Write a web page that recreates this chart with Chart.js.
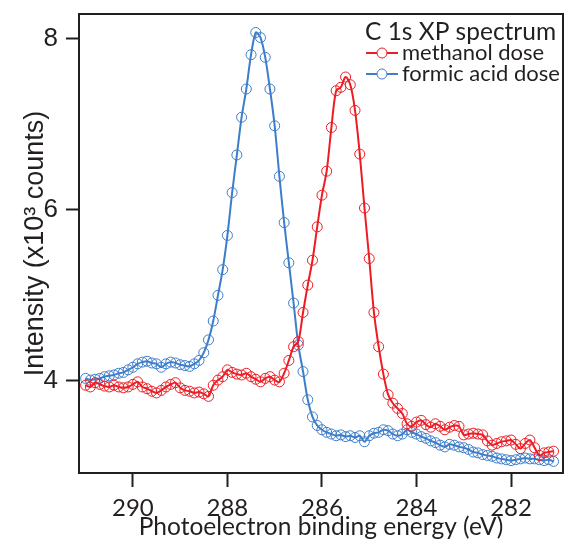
<!DOCTYPE html>
<html lang="en">
<head>
<meta charset="UTF-8" />
<title>C 1s XP spectrum</title>
<script src="https://cdn.jsdelivr.net/npm/chart.js@4.4.1/dist/chart.umd.min.js"></script>
<style>
  html, body { margin: 0; padding: 0; background: #fff; }
  #wrap { width: 565px; height: 545px; }
</style>
</head>
<body>
<div id="wrap"><canvas id="chart" width="565" height="545"></canvas></div>
<script>
// binding energy (eV), one point every 0.1 eV
const energy = [
  291.0,290.9,290.8,290.7,290.6,290.5,290.4,290.3,290.2,290.1,
  290.0,289.9,289.8,289.7,289.6,289.5,289.4,289.3,289.2,289.1,
  289.0,288.9,288.8,288.7,288.6,288.5,288.4,288.3,288.2,288.1,
  288.0,287.9,287.8,287.7,287.6,287.5,287.4,287.3,287.2,287.1,
  287.0,286.9,286.8,286.7,286.6,286.5,286.4,286.3,286.2,286.1,
  286.0,285.9,285.8,285.7,285.6,285.5,285.4,285.3,285.2,285.1,
  285.0,284.9,284.8,284.7,284.6,284.5,284.4,284.3,284.2,284.1,
  284.0,283.9,283.8,283.7,283.6,283.5,283.4,283.3,283.2,283.1,
  283.0,282.9,282.8,282.7,282.6,282.5,282.4,282.3,282.2,282.1,
  282.0,281.9,281.8,281.7,281.6,281.5,281.4,281.3,281.2,281.1
];

// intensity, x10^3 counts
const methanol = [
  3.95,3.93,3.98,3.96,3.94,3.93,3.95,3.93,3.92,3.93,
  3.96,3.99,3.93,3.91,3.88,3.86,3.89,3.93,3.96,3.98,
  3.92,3.89,3.88,3.86,3.87,3.85,3.82,3.95,4.01,4.05,
  4.13,4.10,4.08,4.07,4.09,4.05,4.02,3.99,4.03,4.05,
  4.01,3.99,4.09,4.24,4.40,4.46,4.80,5.12,5.41,5.80,
  6.17,6.45,6.96,7.39,7.43,7.55,7.46,7.16,6.65,6.02,
  5.43,4.80,4.40,4.08,3.84,3.74,3.68,3.62,3.50,3.47,
  3.52,3.54,3.49,3.46,3.50,3.47,3.43,3.46,3.48,3.47,
  3.37,3.38,3.39,3.38,3.37,3.30,3.25,3.27,3.29,3.30,
  3.31,3.26,3.21,3.27,3.31,3.22,3.13,3.16,3.17,3.18
];

const formicAcid = [
  4.03,4.01,4.02,4.03,4.05,4.06,4.07,4.09,4.10,4.13,
  4.16,4.20,4.22,4.23,4.21,4.20,4.16,4.20,4.22,4.21,
  4.19,4.18,4.17,4.20,4.24,4.33,4.48,4.70,5.00,5.30,
  5.70,6.20,6.64,7.08,7.41,7.81,8.07,8.01,7.78,7.41,
  6.98,6.39,5.85,5.38,4.91,4.42,4.11,3.78,3.58,3.48,
  3.43,3.40,3.38,3.36,3.37,3.35,3.36,3.34,3.36,3.29,
  3.36,3.39,3.40,3.43,3.42,3.38,3.36,3.38,3.43,3.40,
  3.38,3.35,3.33,3.30,3.28,3.25,3.23,3.26,3.25,3.23,
  3.22,3.20,3.17,3.16,3.14,3.13,3.12,3.10,3.09,3.08,
  3.07,3.08,3.09,3.10,3.09,3.09,3.08,3.07,3.08,3.06
];

const seriesNames = ['methanol dose', 'formic acid dose'];
const legendTitle = 'C 1s XP spectrum';
const xTicks = [290, 288, 286, 284, 282];
const yTicks = [8, 6, 4];

const RED = '#ed1c24';
const BLUE = '#3d7dca';
const INK = '#231f20';
const SANS = 'Lato';

function pts(ys) {
  return energy.map((e, i) => ({ x: e, y: ys[i] }));
}

function dataset(label, ys, color) {
  return {
    label: label,
    data: pts(ys),
    borderColor: color,
    borderWidth: 2,
    pointRadius: 5,
    pointBorderWidth: 1,
    pointBorderColor: color,
    pointBackgroundColor: 'rgba(0,0,0,0)',
    tension: 0.3,
    fill: false
  };
}

// box round the plot area
const frame = {
  id: 'frame',
  afterDraw(chart) {
    const a = chart.chartArea, ctx = chart.ctx;
    ctx.save();
    ctx.strokeStyle = INK;
    ctx.lineWidth = 2;
    ctx.strokeRect(a.left, a.top, a.right - a.left, a.bottom - a.top);
    ctx.restore();
  }
};

// legend inside the top right corner
const insideLegend = {
  id: 'insideLegend',
  afterDraw(chart) {
    const ctx = chart.ctx, a = chart.chartArea;
    const x0 = a.right - 198;
    ctx.save();
    ctx.fillStyle = INK;
    ctx.textBaseline = 'middle';
    ctx.font = '24.5px ' + SANS;
    ctx.fillText(legendTitle, x0, a.top + 18);
    ctx.font = '22px ' + SANS;
    chart.data.datasets.forEach((ds, i) => {
      const y = a.top + 39 + i * 21;
      ctx.strokeStyle = ds.borderColor;
      ctx.lineWidth = 2;
      ctx.beginPath();
      ctx.moveTo(x0 + 1, y);
      ctx.lineTo(x0 + 33, y);
      ctx.stroke();
      ctx.lineWidth = 1;
      ctx.beginPath();
      ctx.arc(x0 + 17, y, 5, 0, Math.PI * 2);
      ctx.fillStyle = '#fff';
      ctx.fill();
      ctx.stroke();
      ctx.fillStyle = INK;
      ctx.fillText(ds.label, x0 + 37, y);
    });
    ctx.restore();
  }
};

const ctx = document.getElementById('chart').getContext('2d');
new Chart(ctx, {
  type: 'line',
  data: {
    datasets: [
      dataset(seriesNames[0], methanol, RED),
      dataset(seriesNames[1], formicAcid, BLUE)
    ]
  },
  options: {
    responsive: false,
    animation: false,
    layout: { autoPadding: false, padding: { left: 0, right: 2, top: 14, bottom: 0 } },
    plugins: {
      legend: { display: false },
      tooltip: { enabled: false }
    },
    scales: {
      x: {
        type: 'linear',
        reverse: true,
        min: 280.9,
        max: 291.14,
        afterBuildTicks: s => { s.ticks = xTicks.map(v => ({ value: v })); },
        afterFit: s => { s.height = 72; s.paddingLeft = 0; s.paddingRight = 0; },
        border: { display: false },
        grid: { drawOnChartArea: false, tickLength: 14, tickWidth: 2, tickColor: INK },
        ticks: {
          color: INK,
          padding: 7,
          maxRotation: 0,
          font: { family: SANS, size: 24 }
        },
        title: {
          display: true,
          text: 'Photoelectron binding energy (eV)',
          color: INK,
          padding: { top: 0, bottom: 3 },
          font: { family: SANS, size: 24.5 }
        }
      },
      y: {
        type: 'linear',
        min: 2.925,
        max: 8.286,
        afterBuildTicks: s => { s.ticks = yTicks.map(v => ({ value: v })); },
        afterFit: s => { s.width = 79; s.paddingTop = 0; s.paddingBottom = 0; },
        border: { display: false },
        grid: { drawOnChartArea: false, tickLength: 13, tickWidth: 2, tickColor: INK },
        ticks: {
          color: INK,
          padding: 8,
          font: { family: 'Liberation Sans', size: 26 }
        },
        title: {
          display: true,
          text: 'Intensity (x10³ counts)',
          color: INK,
          padding: { top: 19, bottom: 0 },
          font: { family: 'Liberation Sans', size: 27 }
        }
      }
    }
  },
  plugins: [frame, insideLegend]
});
</script>
</body>
</html>
